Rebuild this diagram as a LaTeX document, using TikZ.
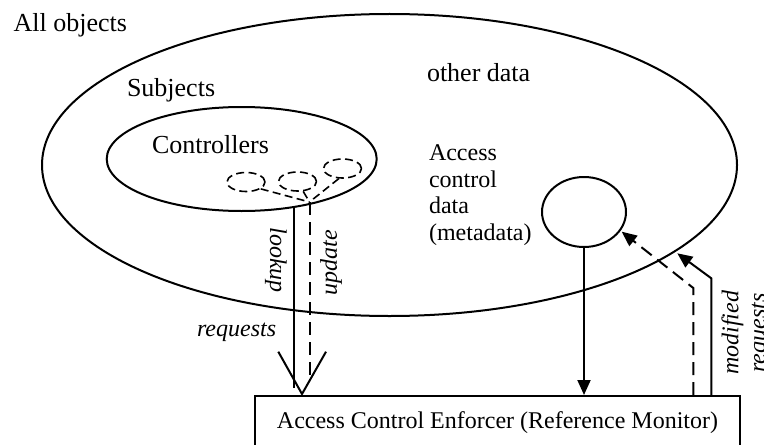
\documentclass[tikz,border=0pt]{standalone}
\usepackage{fontspec}
\setmainfont{Liberation Serif}
\usetikzlibrary{arrows.meta,shapes.geometric}

\begin{document}
\begin{tikzpicture}[x=0.5pt,y=-0.5pt,
  line width=1pt,
  bigtext/.style={font=\fontsize{13}{15.6}\selectfont, inner sep=0pt},
  midtext/.style={font=\fontsize{12}{13.25}\selectfont, inner sep=0pt},
  flowlabel/.style={font=\fontsize{12}{13.5}\selectfont\itshape, inner sep=0pt},
  set/.style={draw, ellipse, inner sep=0pt},
  member/.style={draw, ellipse, inner sep=0pt, line width=0.8pt,
    dash pattern=on 4pt off 2.2pt, minimum width=19pt, minimum height=9.5pt},
  longdash/.style={dash pattern=on 6.5pt off 3.5pt},
  tip/.style={-{Triangle[length=7.5pt,width=6.5pt]}}
]
\useasboundingbox (0,0) rectangle (764,444);

% sets of objects
\node[set, minimum width=347.5pt, minimum height=151pt] (objects) at (389.5,165) {};
\node[set, minimum width=135pt, minimum height=52pt] (ctrl) at (241.7,159) {};
\node[set, minimum width=42pt, minimum height=35pt] (acd) at (584,212) {};

\node[bigtext, anchor=base west] (allobj) at (12.7,32) {All objects};
\node[bigtext, anchor=base west] (subj) at (126,97) {Subjects};
\node[bigtext, anchor=base west] (other) at (426,82) {other data};
\node[bigtext, anchor=base west] (ctrllbl) at (151,153) {Controllers};
% the base anchor of a multi-line node sits on its last line
\node[midtext, anchor=base west, align=left] (acdlbl) at (428,240)
  {Access\\control\\data\\(metadata)};

% individual controllers
\node[member] (c1) at (246,182) {};
\node[member] (c2) at (297.5,181.5) {};
\node[member] (c3) at (342.5,168.5) {};
\coordinate (join) at (309.5,202);
\draw[line width=0.8pt, dash pattern=on 4pt off 2.2pt]
  (c1.-25) -- (join) (c2.-60) -- (join) (c3.-110) -- (join);

% enforcer
\node[draw, anchor=north, minimum width=242.5pt, inner xsep=0pt, inner ysep=0pt,
  text height=16pt, text depth=12pt, font=\fontsize{12}{14}\selectfont]
  (acebox) at (497.5,395) {Access Control Enforcer (Reference Monitor)};

% lookup / update and the incoming requests
\coordinate (lktop) at (294.3,207);
\coordinate (lkbot) at (294.3,388);
\draw (lktop) -- (lkbot);
\coordinate (updbot) at (309.5,380.5);
\draw[longdash] (join) -- (updbot);
\coordinate (vtip) at (302,394);
\coordinate (vleft) at (278.3,351.7);
\coordinate (vright) at (326,351.7);
\draw[line join=miter] (vleft) -- (vtip) -- (vright);

\node[flowlabel, rotate=-90] (lookup) at (276,260) {lookup};
\node[flowlabel, rotate=90] (update) at (331,263) {update};
\node[flowlabel, anchor=base west] (req) at (196,336) {requests};

% metadata read by the enforcer
\draw[tip] (acd.south) -- (acd.south |- acebox.north);

% writes back to metadata and modified requests
\coordinate (dbend) at (693.3,288);
\coordinate (dtip) at (621.7,231.7);
\draw[tip, longdash] (acebox.north -| dbend) -- (dbend) -- (dtip);
\coordinate (sbend) at (711.3,278.3);
\coordinate (stip) at (677.3,253.3);
\draw[tip] (acebox.north -| sbend) -- (sbend) -- (stip);

\node[flowlabel, rotate=90, align=center] (modreq) at (746,333) {modified\\requests};
\end{tikzpicture}
\end{document}
